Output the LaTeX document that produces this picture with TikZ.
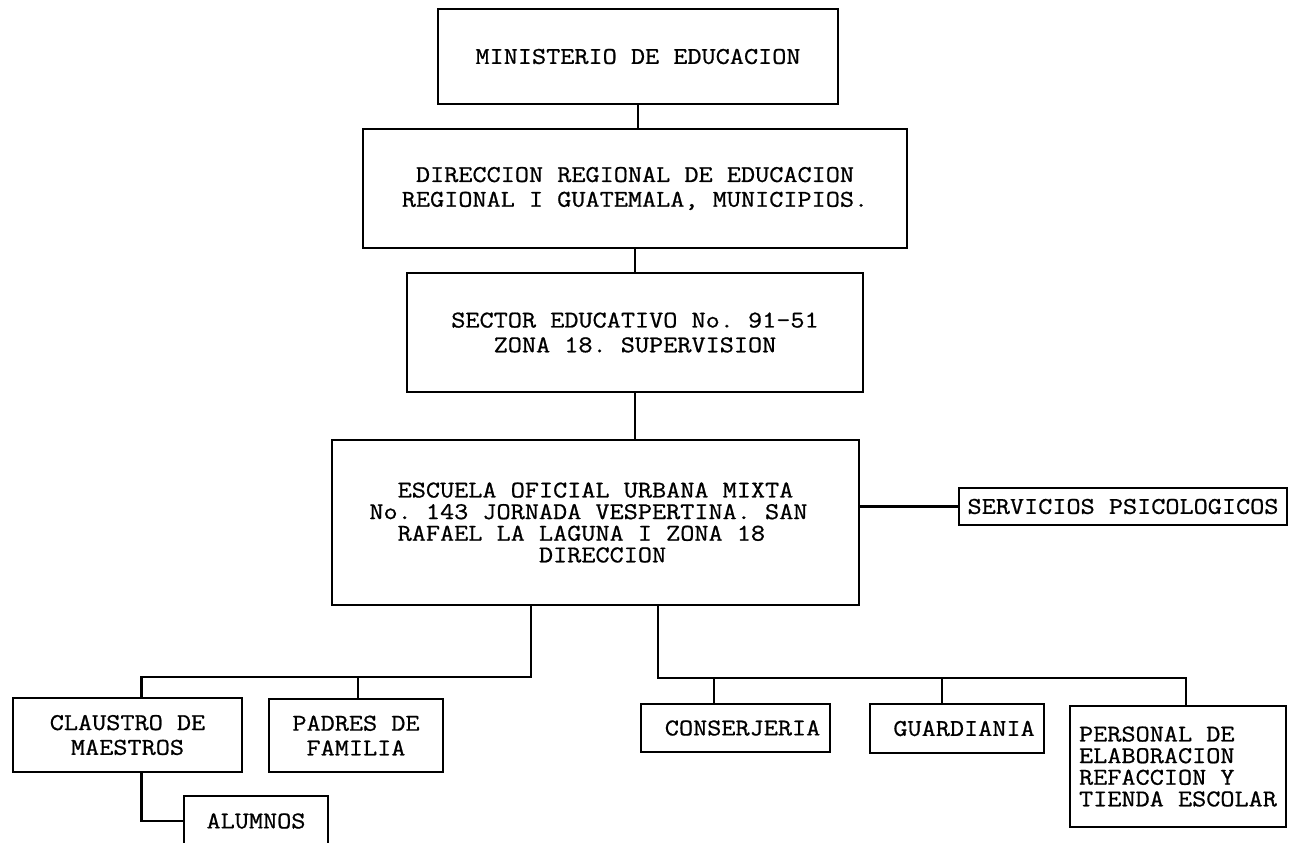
\documentclass[tikz,border=0pt]{standalone}
\usepackage{fontspec}
\setmonofont{Latin Modern Mono}[FakeStretch=1.14, FakeBold=0.8]
\usepackage{tikz}
\newcommand\orgfont{\ttfamily\fontsize{13.7pt}{14.1pt}\selectfont}
\newcommand\orgfonttight{\ttfamily\fontsize{13.7pt}{12.3pt}\selectfont}
\tikzset{
	unit/.style={
		rectangle,
		draw,
		line width=1.3pt,
		inner sep=0pt,
		align=center,
		font=\orgfont
	},
	link/.style={
		line width=1.3pt
	}
}

\begin{document}
\begin{tikzpicture}[x=0.02cm, y=-0.02cm]
	\useasboundingbox (0,0) rectangle (1291,842);
	\node [unit, minimum width=8cm, minimum height=1.9cm] (min) at (638,56.5) {MINISTERIO DE EDUCACION};
	\node [unit, minimum width=10.88cm, minimum height=2.38cm] (dre) at (635,188.5) {DIRECCION REGIONAL DE EDUCACION\\REGIONAL I GUATEMALA, MUNICIPIOS.};
	\node [unit, minimum width=9.12cm, minimum height=2.38cm] (sec) at (635,332.5) {SECTOR EDUCATIVO No. 91-51\\ZONA 18. SUPERVISION};
	\node [unit, font=\orgfonttight, minimum width=10.54cm, minimum height=3.3cm] (esc) at (595.5,522.5) {ESCUELA OFICIAL URBANA MIXTA\\No. 143 JORNADA VESPERTINA. SAN\hphantom{0}\\RAFAEL LA LAGUNA I ZONA 18\hphantom{00}\\\hphantom{0}DIRECCION};
	\node [unit, minimum width=6.56cm, minimum height=0.74cm] (psi) at (1123,506.5) {SERVICIOS PSICOLOGICOS};
	\node [unit, minimum width=4.58cm, minimum height=1.48cm] (cla) at (127.5,735) {CLAUSTRO DE\\MAESTROS};
	\node [unit, minimum width=3.48cm, minimum height=1.46cm] (pad) at (356,735.5) {PADRES DE\\FAMILIA};
	\node [unit, minimum width=2.88cm, minimum height=1cm] (alu) at (256,821) {ALUMNOS};
	\node [unit, minimum width=3.78cm, minimum height=0.96cm] (con) at (735.5,728) {\hphantom{0}CONSERJERIA};
	\node [unit, minimum width=3.48cm, minimum height=0.98cm] (gua) at (957,728.5) {\hphantom{0}GUARDIANIA};
	\node [unit, font=\orgfonttight, align=left, minimum width=4.32cm, minimum height=2.42cm] (per) at (1178,766.5) {PERSONAL DE\\ELABORACION\\REFACCION Y\\TIENDA ESCOLAR};
	\coordinate (busl) at (531,677);
	\coordinate (busr) at (658,678);
	\draw [link] (min.south) -- (min.south |- dre.north);
	\draw [link] (dre.south) -- (dre.south |- sec.north);
	\draw [link] (sec.south) -- (sec.south |- esc.north);
	\draw [link] (esc.east |- psi.west) -- (psi.west);
	\draw [link] (busl |- esc.south) -- (busl) -| ([xshift=0.28cm]cla.north);
	\draw [link] (busl) -| ([xshift=0.04cm]pad.north);
	\draw [link] ([xshift=0.28cm]cla.south) |- (alu.west);
	\draw [link] (busr |- esc.south) -- (busr) -| ([xshift=0.16cm]per.north);
	\draw [link] (busr) -| ([xshift=-0.43cm]con.north);
	\draw [link] (busr) -| ([xshift=-0.3cm]gua.north);
\end{tikzpicture}
\end{document}
